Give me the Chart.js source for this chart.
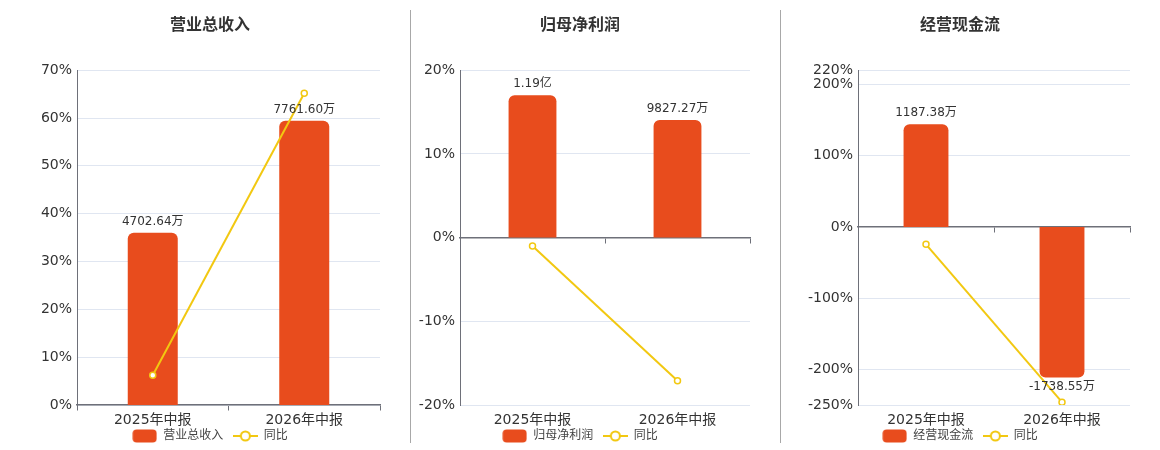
<!DOCTYPE html>
<html>
<head>
<meta charset="utf-8">
<script src="https://cdn.jsdelivr.net/npm/chart.js@4"></script>
<style>
  body { margin: 0; width: 1160px; height: 450px; overflow: hidden; position: relative; background: #fff; }
  .panel { position: absolute; top: 0; height: 452px; }
  .divider { position: absolute; top: 10px; height: 433px; width: 1px; background: #a8a8a8; }
</style>
</head>
<body>
<div class="panel" style="left:0;width:420px"><canvas id="revenueChart"></canvas></div>
<div class="panel" style="left:404px;width:352px"><canvas id="profitChart"></canvas></div>
<div class="panel" style="left:780px;width:360px"><canvas id="cashChart"></canvas></div>
<div class="divider" style="left:410px"></div>
<div class="divider" style="left:780px"></div>
<script>
// categories + series (amounts in 万元, yoy in %)
const categories = ['2025年中报', '2026年中报'];

const revenue = [4702.64, 7761.60];
const revenueYoY = [6.2, 65.2];
const revenueTicks = [0, 10, 20, 30, 40, 50, 60, 70];

const netProfit = [11900, 9827.27];
const netProfitYoY = [-1.0, -17.1];
const netProfitTicks = [-20, -10, 0, 10, 20];

const cashFlow = [1187.38, -1738.55];
const cashFlowYoY = [-24.5, -246];
const cashFlowTicks = [-250, -200, -100, 0, 100, 200, 220];

const FONT = '"DejaVu Sans", "Noto Sans CJK SC", sans-serif';
const BAR_COLOR = '#E84C1D';
const LINE_COLOR = '#F2C811';
const AXIS_COLOR = '#6E7079';
const GRID_COLOR = '#E0E6F1';

function fmtAmount(v) {
    if (Math.abs(v) >= 10000) return (v / 10000).toFixed(2) + '亿';
    return v.toFixed(2) + '万';
}

// legend icons
function barIcon() {
    const c = document.createElement('canvas');
    c.width = 25; c.height = 14;
    const g = c.getContext('2d');
    g.fillStyle = BAR_COLOR;
    g.beginPath();
    g.roundRect(0.5, 0.5, 24, 13, 4);
    g.fill();
    return c;
}
function lineIcon() {
    const c = document.createElement('canvas');
    c.width = 25; c.height = 14;
    const g = c.getContext('2d');
    g.strokeStyle = LINE_COLOR;
    g.lineWidth = 2;
    g.beginPath();
    g.moveTo(0, 7); g.lineTo(25, 7);
    g.stroke();
    g.beginPath();
    g.arc(12.5, 7, 4.5, 0, Math.PI * 2);
    g.fillStyle = '#fff';
    g.fill();
    g.stroke();
    return c;
}
const icons = [barIcon(), lineIcon()];

// value labels above / below bars
const barLabels = {
    id: 'barLabels',
    afterDatasetsDraw(chart) {
        const meta = chart.getDatasetMeta(0);
        const ctx = chart.ctx;
        ctx.save();
        ctx.font = '12px ' + FONT;
        ctx.fillStyle = '#333';
        ctx.textAlign = 'center';
        meta.data.forEach((bar, i) => {
            const v = chart.data.datasets[0].data[i];
            if (v >= 0) {
                ctx.textBaseline = 'bottom';
                ctx.fillText(fmtAmount(v), bar.x, bar.y - 5);
            } else {
                ctx.textBaseline = 'top';
                ctx.fillText(fmtAmount(v), bar.x, bar.y + 3);
            }
        });
        ctx.restore();
    }
};

function makePanel(id, title, bars, yoy, ticks, unitPerPct, leftWidth, rightWidth) {
    const ctx = document.getElementById(id);
    const yMin = ticks[0], yMax = ticks[ticks.length - 1];
    return new Chart(ctx, {
        data: {
            labels: categories,
            datasets: [{
                type: 'bar',
                label: title,
                data: bars,
                yAxisID: 'yb',
                backgroundColor: BAR_COLOR,
                borderRadius: 6,
                borderSkipped: 'start',
                barPercentage: 0.33,
                categoryPercentage: 1,
                order: 1
            }, {
                type: 'line',
                label: '同比',
                data: yoy,
                yAxisID: 'y',
                borderColor: LINE_COLOR,
                borderWidth: 2,
                pointRadius: 3,
                pointBackgroundColor: '#fff',
                pointBorderColor: LINE_COLOR,
                pointBorderWidth: 1.5,
                tension: 0,
                order: 0
            }]
        },
        options: {
            responsive: true,
            maintainAspectRatio: false,
            animation: false,
            layout: { padding: 0 },
            scales: {
                x: {
                    type: 'category',
                    offset: true,
                    grid: { display: false, drawTicks: false },
                    border: { display: false },
                    ticks: { color: '#333', font: { family: FONT, size: 14 }, padding: 7, maxRotation: 0 },
                    afterFit: s => { s.height = 23; }
                },
                x2: {
                    type: 'category',
                    position: { y: 0 },
                    offset: true,
                    grid: { offset: true, drawOnChartArea: false, drawTicks: true, tickLength: 5, color: AXIS_COLOR },
                    border: { display: true, color: AXIS_COLOR, width: 1.5 },
                    ticks: { display: false }
                },
                y: {
                    position: 'left',
                    min: yMin,
                    max: yMax,
                    afterBuildTicks: axis => { axis.ticks = ticks.map(v => ({ value: v })); },
                    afterFit: s => { s.width = leftWidth; },
                    grid: { color: GRID_COLOR, drawTicks: false },
                    border: { color: AXIS_COLOR, width: 1 },
                    ticks: {
                        color: '#333',
                        font: { family: FONT, size: 14 },
                        padding: 5,
                        callback: v => v + '%'
                    }
                },
                yb: {
                    position: 'right',
                    min: yMin * unitPerPct,
                    max: yMax * unitPerPct,
                    grid: { display: false },
                    border: { display: false },
                    ticks: { display: false },
                    afterFit: s => { s.width = rightWidth; }
                }
            },
            plugins: {
                title: {
                    display: true,
                    text: title,
                    color: '#333',
                    font: { family: FONT, size: 16, weight: 'bold' },
                    padding: { top: 16, bottom: 35 }
                },
                legend: {
                    position: 'bottom',
                    labels: {
                        usePointStyle: true,
                        pointStyleWidth: 25,
                        boxHeight: 14,
                        padding: 2,
                        color: '#444',
                        font: { family: FONT, size: 12 },
                        // trailing spaces give the gap between the two legend items
                        generateLabels: chart => chart.data.datasets.map((ds, i, all) => ({
                            text: i < all.length - 1 ? ds.label + '  ' : ds.label,
                            pointStyle: icons[i],
                            fillStyle: 'transparent',
                            strokeStyle: 'transparent',
                            lineWidth: 0,
                            hidden: false,
                            datasetIndex: i,
                            fontColor: '#444'
                        }))
                    }
                },
                tooltip: { enabled: false }
            }
        },
        plugins: [barLabels]
    });
}

makePanel('revenueChart', '营业总收入', revenue, revenueYoY, revenueTicks, 130.6, 77, 40);
makePanel('profitChart', '归母净利润', netProfit, netProfitYoY, netProfitTicks, 700, 56, 6);
makePanel('cashChart', '经营现金流', cashFlow, cashFlowYoY, cashFlowTicks, 8.23, 78, 10);
</script>
</body>
</html>
